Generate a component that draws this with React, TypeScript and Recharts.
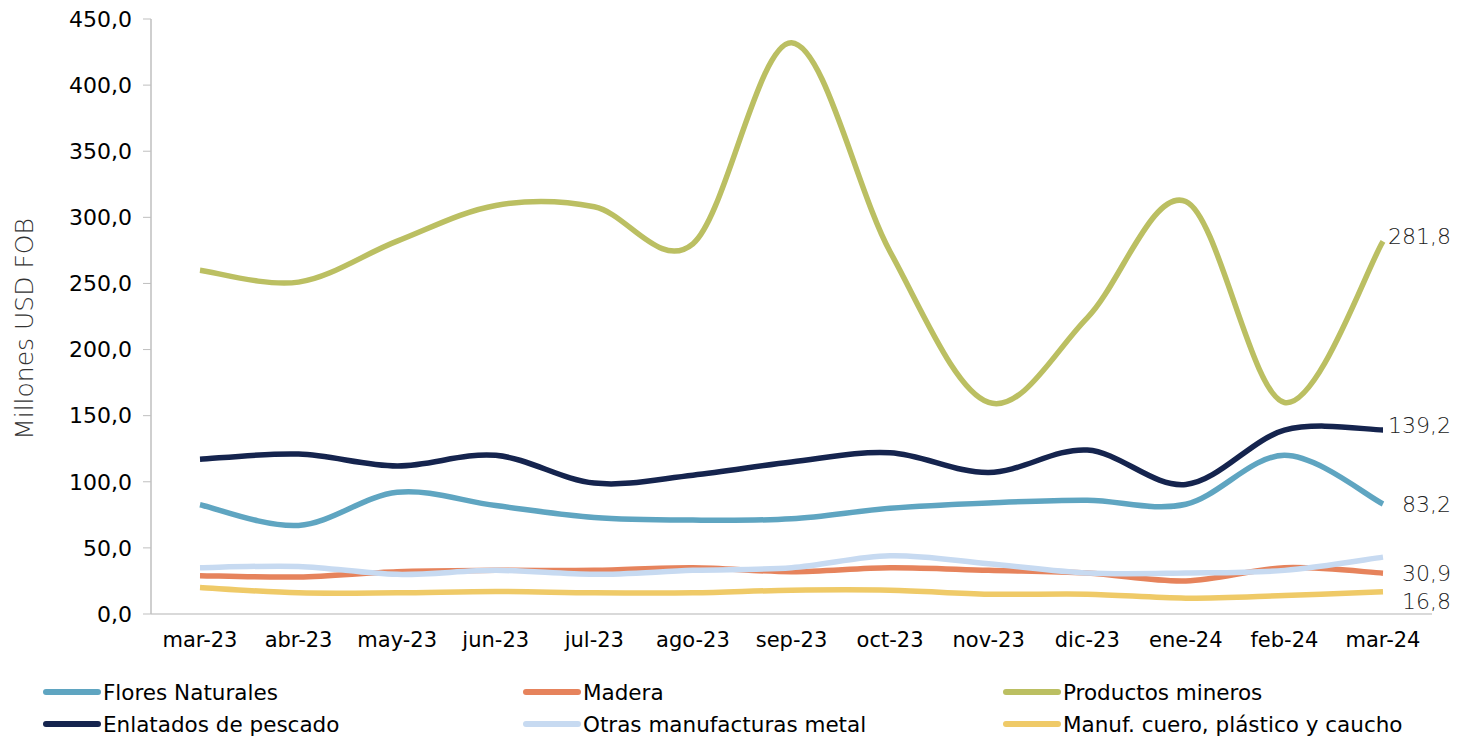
import { LabelList, Legend, Line, LineChart, XAxis, YAxis } from "recharts"

const months = ["mar-23", "abr-23", "may-23", "jun-23", "jul-23", "ago-23", "sep-23", "oct-23", "nov-23", "dic-23", "ene-24", "feb-24", "mar-24"]

const floresNaturales = [82.6, 67, 92, 82, 73, 71, 72, 80, 84, 86, 83, 120, 83.2]
const madera = [29, 28, 32, 33, 33, 35, 32, 35, 33, 31, 25, 35, 30.9]
const productosMineros = [260, 251, 282, 309, 308, 280, 432, 274, 160, 224, 312, 160, 281.8]
const enlatadosPescado = [117, 121, 112, 120, 99, 105, 115, 122, 107, 124, 98, 139, 139.2]
const otrasManufacturas = [35, 36, 30, 33, 30, 33, 35, 44, 38, 31, 31, 33, 43]
const manufCuero = [20, 16, 16, 17, 16, 16, 18, 18, 15, 15, 12, 14, 16.8]

const yTicks = [0, 50, 100, 150, 200, 250, 300, 350, 400, 450]

const series = [
  { key: "flores", name: "Flores Naturales", values: floresNaturales, color: "#5fa5c1", label: true, labelDy: 0 },
  { key: "madera", name: "Madera", values: madera, color: "#e6835c", label: true, labelDy: 0 },
  { key: "mineros", name: "Productos mineros", values: productosMineros, color: "#bbbf62", label: true, labelDy: -5 },
  { key: "enlatados", name: "Enlatados de pescado", values: enlatadosPescado, color: "#15244e", label: true, labelDy: -5 },
  { key: "otras", name: "Otras manufacturas metal", values: otrasManufacturas, color: "#c7daf1", label: false, labelDy: 0 },
  { key: "cuero", name: "Manuf. cuero, plástico y caucho", values: manufCuero, color: "#efca68", label: true, labelDy: 9 },
]

const data = months.map((m, i) => {
  const row: Record<string, any> = { month: m }
  series.forEach((s) => (row[s.key] = s.values[i]))
  return row
})

const fmt = (v: number) => v.toFixed(1).replace(".", ",")

// Excel-style smoothed line (Catmull-Rom through the points)
const excelSmooth = (context: any) => {
  let pts: [number, number][] = []
  return {
    areaStart() {},
    areaEnd() {},
    lineStart() {
      pts = []
    },
    point(x: number, y: number) {
      pts.push([+x, +y])
    },
    lineEnd() {
      if (!pts.length) return
      context.moveTo(pts[0][0], pts[0][1])
      const t = 1 / 6
      for (let i = 0; i < pts.length - 1; i++) {
        const p0 = pts[i - 1] ?? pts[i]
        const p1 = pts[i]
        const p2 = pts[i + 1]
        const p3 = pts[i + 2] ?? pts[i + 1]
        context.bezierCurveTo(
          p1[0] + (p2[0] - p0[0]) * t,
          p1[1] + (p2[1] - p0[1]) * t,
          p2[0] - (p3[0] - p1[0]) * t,
          p2[1] - (p3[1] - p1[1]) * t,
          p2[0],
          p2[1]
        )
      }
    },
  }
}

const font = "'DejaVu Sans', sans-serif"

const LegendBox = () => (
  <div
    style={{
      display: "grid",
      gridTemplateColumns: "480px 480px 456px",
      rowGap: 8,
      paddingLeft: 43,
      fontFamily: font,
      fontSize: 21.5,
      color: "#000",
    }}
  >
    {series.map((s) => (
      <div key={s.key} style={{ display: "flex", alignItems: "center", height: 24 }}>
        <span style={{ display: "inline-block", width: 58, height: 6, borderRadius: 3, background: s.color, marginRight: 2 }} />
        <span>{s.name}</span>
      </div>
    ))}
  </div>
)

export default function App() {
  const last = months.length - 1
  return (
    <div style={{ position: "absolute", left: 0, top: 0, width: 1459, height: 737, overflow: "hidden" }}>
      <LineChart width={1459} height={737} data={data} margin={{ top: 19, right: 27, left: 0, bottom: 22 }}>
        <XAxis
          dataKey="month"
          padding={{ left: 49, right: 49 }}
          tickLine={false}
          axisLine={{ stroke: "#d9d9d9", strokeWidth: 2 }}
          tick={{ fill: "#000", fontSize: 21, fontFamily: font }}
          tickMargin={12}
          height={45}
          interval={0}
        />
        <YAxis
          domain={[0, 450]}
          ticks={yTicks}
          tickFormatter={fmt}
          width={151}
          axisLine={{ stroke: "#bfbfbf", strokeWidth: 1.5 }}
          tickLine={{ stroke: "#bfbfbf" }}
          tickSize={8}
          tickMargin={11}
          tick={{ fill: "#000", fontSize: 22, fontFamily: font }}
          label={{
            content: () => (
              <text
                transform="translate(33,329) rotate(-90)"
                textAnchor="middle"
                fill="#333"
                fontSize={25}
                fontWeight={300}
                fontFamily={font}
              >
                Millones USD FOB
              </text>
            ),
          }}
        />
        <Legend verticalAlign="bottom" wrapperStyle={{ left: 0, top: 680, width: 1459 }} content={() => <LegendBox />} />
        {series.map((s) => (
          <Line
            key={s.key}
            dataKey={s.key}
            name={s.name}
            type={excelSmooth as any}
            stroke={s.color}
            strokeWidth={5.5}
            dot={false}
            activeDot={false}
            isAnimationActive={false}
          >
            {s.label && (
              <LabelList
                dataKey={s.key}
                content={(p: any) =>
                  p.index === last ? (
                    <text
                      x={p.x + 68}
                      y={p.y + s.labelDy}
                      dy={8}
                      textAnchor="end"
                      fill="#222"
                      fontSize={22}
                      fontWeight={300}
                      fontFamily={font}
                    >
                      {fmt(p.value)}
                    </text>
                  ) : null
                }
              />
            )}
          </Line>
        ))}
      </LineChart>
    </div>
  )
}
